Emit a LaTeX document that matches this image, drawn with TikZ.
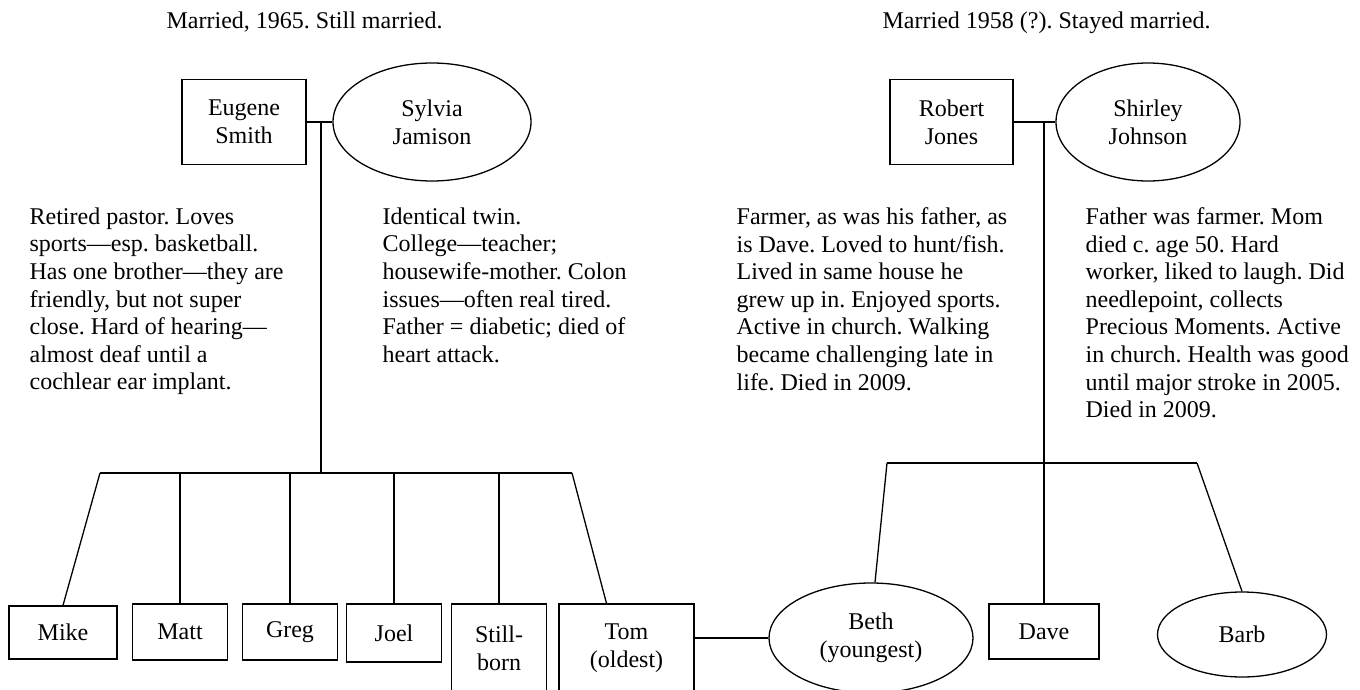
\documentclass[tikz,border=0pt]{standalone}
\usepackage{fontspec}
\setmainfont{Liberation Serif}
\frenchspacing
\usetikzlibrary{positioning,shapes.geometric}
\tikzset{every picture/.style={line width=1.3pt}}
\tikzstyle{male}=[rectangle,draw,align=center,inner sep=0pt]
\tikzstyle{female}=[ellipse,draw,align=center,inner sep=0pt]
\tikzstyle{note}=[anchor=north west,align=left,inner sep=0pt]

\begin{document}
\begin{tikzpicture}[x=1pt,y=-1pt,font=\fontsize{24}{27.6}\selectfont]
\useasboundingbox (0,0) rectangle (1360,690);
% captions
\node[anchor=base west,inner sep=0pt] (capL) at (166,29) {Married, 1965. Still married.};
\node[anchor=base west,inner sep=0pt] (capR) at (882,29) {Married 1958 (?). Stayed married.};
% parents
\node[male,minimum width=124pt,minimum height=85pt] (ES) at (244,122) {Eugene\\Smith};
\node[female,minimum width=198pt,minimum height=118pt] (SJ) at (432,122) {Sylvia\\Jamison};
\node[male,minimum width=123pt,minimum height=85pt] (RJ) at (951.5,122) {Robert\\Jones};
\node[female,minimum width=184pt,minimum height=118pt] (SH) at (1148,122) {Shirley\\Johnson};
% notes
\node[note] (nES) at (29,207) {Retired pastor. Loves\\sports---esp. basketball.\\Has one brother---they are\\friendly, but not super\\close. Hard of hearing---\\almost deaf until a\\cochlear ear implant.};
\node[note] (nSJ) at (382,207) {Identical twin.\\College---teacher;\\housewife-mother. Colon\\issues---often real tired.\\Father = diabetic; died of\\heart attack.};
\node[note] (nRJ) at (736,207) {Farmer, as was his father, as\\is Dave. Loved to hunt/fish.\\Lived in same house he\\grew up in. Enjoyed sports.\\Active in church. Walking\\became challenging late in\\life. Died in 2009.};
\node[note] (nSH) at (1085,207) {Father was farmer. Mom\\died c. age 50. Hard\\worker, liked to laugh. Did\\needlepoint, collects\\Precious Moments. Active\\in church. Health was good\\until major stroke in 2005.\\Died in 2009.};
% children
\node[male,minimum width=108pt,minimum height=53pt] (mike) at (63,632.5) {Mike};
\node[male,minimum width=95pt,minimum height=56pt] (matt) at (180,632) {Matt};
\node[male,minimum width=95pt,minimum height=56pt] (greg) at (290,632) {Greg};
\node[male,minimum width=95pt,minimum height=58pt] (joel) at (394,633) {Joel};
\node[male,minimum width=95pt,minimum height=88pt] (still) at (499,648) {Still-\\born};
\node[male,minimum width=135pt,minimum height=88pt] (tom) at (626.5,648) {Tom\\(oldest)};
\node[female,minimum width=204pt,minimum height=110pt] (beth) at (871,638) {Beth\\(youngest)};
\node[male,minimum width=110pt,minimum height=55pt] (dave) at (1044,631.5) {Dave};
\node[female,minimum width=169pt,minimum height=85pt] (barb) at (1242,634.5) {Barb};
% junctions
\coordinate (mL) at (321,122);
\coordinate (mR) at (1044,122);
\coordinate (bl) at (100,473);
\coordinate (br) at (572,473);
\coordinate (cl) at (887,463);
\coordinate (cr) at (1197,463);
% marriages
\draw (ES.east) -- (SJ.west);
\draw (RJ.east) -- (SH.west);
\draw (beth.west) -- (beth.west -| tom.east);
% descent
\draw (mL) -- (mL |- bl);
\draw (bl) -- (br);
\draw (bl) -- (mike.north);
\draw (matt.north) -- (matt.north |- bl);
\draw (greg.north) -- (greg.north |- bl);
\draw (joel.north) -- (joel.north |- bl);
\draw (still.north) -- (still.north |- bl);
\draw (br) -- ([xshift=-20pt]tom.north);
\draw (mR) -- (dave.north);
\draw (cl) -- (cr);
\draw (cl) -- ([xshift=4pt]beth.north);
\draw (cr) -- (barb.north);
\end{tikzpicture}
\end{document}
